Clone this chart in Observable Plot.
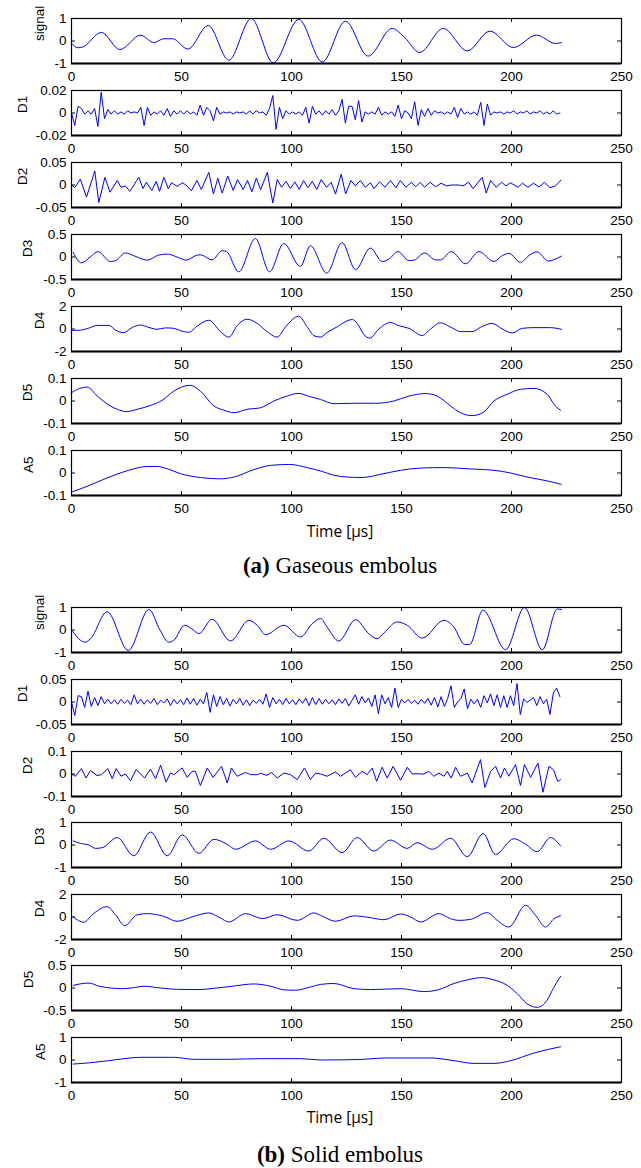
<!DOCTYPE html>
<html><head><meta charset="utf-8">
<script src="https://cdn.jsdelivr.net/npm/d3@7"></script>
<script src="https://cdn.jsdelivr.net/npm/@observablehq/plot@0.6"></script>
<style>
body{margin:0;background:#fff;}
#wrap{position:relative;width:641px;height:1168px;overflow:hidden;background:#fff;}
.panel{position:absolute;left:0;}
svg{overflow:visible;}
</style></head><body><div id="wrap"></div><script>
// ---------- data ----------
const xTicks = [0, 50, 100, 150, 200, 250];
const xInnerTicks = [50, 100, 150, 200];
const xLabel = "Time [µs]";
const captionA = ["(a)", " Gaseous embolus"];
const captionB = ["(b)", " Solid embolus"];
const rowLabels = ["signal", "D1", "D2", "D3", "D4", "D5", "A5"];

// y domains / ticks (low, high)
const gasRanges = [1, 0.02, 0.05, 0.5, 2, 0.1, 0.1];
const solRanges = [1, 0.05, 0.1, 1, 2, 0.5, 1];

// (a) gaseous embolus, [time µs, value]
const gasSignal = [[0,-0.1],[2.9,-0.3],[5,-0.27],[13.6,0.38],[22,-0.38],[31.4,0.26],[37.4,-0.07],[42,0.1],[46,0.1],[52.9,-0.36],[62.1,0.69],[71.5,-0.85],[81.7,1.0],[91.7,-0.97],[103.3,0.96],[114,-0.93],[124.5,0.88],[134.8,-0.67],[145.8,0.56],[151.5,0.15],[158.2,-0.51],[169,0.56],[179.9,-0.44],[190.2,0.44],[200.8,-0.29],[211.4,0.26],[220,-0.11],[222.7,-0.07]];
// D1 sampled every 1.5 µs from 0 to 222 µs
const gasD1 = [0,-0.011,0.006,0.004,-0.001,0.002,-0.001,0.004,-0.012,0.0185,
 -0.005,0.003,-0.001,0.002,-0.001,0.001,-0.001,0.002,0,0.001,
 0,0.005,-0.011,0.005,-0.002,0.001,-0.001,0.002,-0.002,0.004,
 -0.003,0.002,-0.001,0.002,-0.001,0.002,-0.001,0.001,-0.002,0.007,
 -0.002,0.005,0.002,-0.007,0.005,-0.001,0.001,0,0.001,-0.001,
 0.001,0,0.001,-0.001,0.002,-0.001,0.002,0,0.001,-0.002,
 0.004,0.0155,-0.0145,0.005,-0.005,0.002,-0.001,0.001,-0.001,0.001,
 -0.002,0.005,-0.009,0.006,-0.001,0.002,-0.002,0.002,-0.001,0.003,
 -0.002,0.002,0.012,-0.009,0.006,0.006,-0.006,0.011,-0.008,0.001,
 -0.001,0.001,-0.001,0.005,-0.002,0.001,-0.001,0.001,-0.003,0.007,
 -0.005,0.002,0,-0.005,0.01,-0.011,0.003,-0.003,0.004,-0.002,
 0.002,0,0.001,-0.001,0.001,-0.001,0.005,-0.004,0.004,-0.001,
 0.001,-0.001,0.001,-0.002,0.0095,-0.011,0.008,-0.002,0.001,0,
 0.001,-0.001,0.001,0,0.002,-0.001,0.001,0,0.002,-0.001,
 0.001,0,0.002,-0.001,0.001,-0.001,0.002,-0.001,0];
const gasD2 = [[0,0],[1.5,-0.006],[4,0.013],[6.8,-0.027],[10.6,0.031],[12.4,-0.039],[15.2,0.017],[17.5,-0.016],[20.8,0.01],[22.5,-0.005],[24.5,-0.002],[26.5,-0.014],[30.6,0.017],[32.5,-0.008],[34,0.006],[36.5,-0.012],[38.5,0.008],[40,-0.014],[42,0.017],[44,-0.008],[45.5,0.005],[48,-0.003],[50.5,0.005],[52.5,-0.002],[54.5,-0.013],[57,0.01],[59,-0.01],[62.4,0.028],[64.5,-0.02],[66.5,0.015],[68.5,-0.018],[71,0.02],[73.5,-0.012],[75.5,0.012],[78,-0.01],[80,0.01],[82,-0.015],[84,0.015],[86,-0.01],[89,0.028],[91.5,-0.04],[93.5,0.012],[95.5,-0.005],[97.5,0.008],[99.5,-0.008],[101.5,0.007],[103.5,-0.01],[105.5,0.01],[107.5,-0.006],[109.5,0.008],[111.5,-0.01],[113.5,0.012],[116,-0.005],[118,0.006],[120,-0.02],[122.6,0.024],[124.6,-0.02],[127,0.01],[129,-0.002],[131.3,0.01],[133.5,-0.005],[135.9,0.005],[137.5,-0.008],[140,0.007],[142.5,-0.005],[145,0.01],[147.5,-0.006],[149.5,0.01],[152,-0.005],[154.5,0.006],[156.5,-0.004],[158.5,0.006],[160.5,-0.005],[163,0.006],[165.5,-0.004],[168,0.004],[170.5,-0.002],[172.5,0],[176,0],[178,-0.002],[180.5,0.006],[182.5,-0.008],[186.7,0.017],[188.5,-0.018],[190.5,0.01],[193,-0.005],[195.5,0.006],[197.5,-0.002],[199.5,0.005],[203,-0.005],[205,0.004],[207.5,-0.005],[210,0.004],[212.5,-0.004],[215,0.006],[217.5,-0.006],[220,-0.002],[222.5,0.011]];
const gasD3 = [[0.8,0.1],[4.5,-0.13],[8.5,0.0],[12,0.12],[17.7,-0.1],[20,-0.08],[24.5,0.09],[28.3,0.03],[34.4,-0.07],[39.5,0.04],[43.5,0.065],[48,0.0],[52.1,-0.07],[57,0.04],[58.6,0.05],[63.9,-0.065],[68.5,0.14],[70.5,0.12],[76,-0.33],[83.6,0.41],[90,-0.33],[96.5,0.3],[104,-0.21],[108.6,0.25],[116,-0.36],[123,0.32],[129.1,-0.28],[135.9,0.2],[141.2,-0.1],[144.2,-0.05],[148.4,0.12],[153.4,-0.08],[155.7,-0.07],[160.5,0.09],[165.5,-0.065],[167.7,-0.065],[172.6,0.12],[179.1,-0.15],[185.2,0.12],[192,-0.1],[195.8,0.03],[198.8,0.08],[204.1,-0.12],[207.9,0.03],[211.7,0.115],[216.7,-0.09],[219.3,-0.06],[222.7,0.02]];
const gasD4 = [[0,-0.12],[3,-0.12],[7.1,0.03],[11.7,0.32],[17,0.32],[20,-0.1],[23.8,-0.32],[27.6,0.14],[31.4,0.35],[35.2,0.14],[38.9,-0.03],[42.7,0.1],[46.5,0.06],[50.3,-0.2],[53.3,-0.29],[57.1,0.26],[62.4,0.78],[67.7,-0.23],[71.5,-0.72],[75.5,0.35],[79.8,0.87],[84.4,0.5],[88.9,-0.23],[93.5,-0.72],[97.3,0.2],[103.3,1.13],[107.1,0.2],[110.2,-0.6],[113.2,-0.72],[116.2,-0.3],[120.8,0.2],[123.8,0.58],[127.6,0.84],[129.9,0.5],[132.9,-0.5],[135.6,-0.81],[139.7,0],[145,0.58],[148.8,0.29],[153.4,0.06],[159.4,-0.58],[163.2,0],[167.7,0.55],[173,0.1],[176.8,-0.23],[182.1,-0.23],[185.9,0.15],[191.2,0.5],[195.8,0],[200.3,-0.35],[204.9,0.06],[210.2,0.12],[217.7,0.12],[222.7,-0.03]];
const gasD5 = [[0,0.037],[3.8,0.056],[7.1,0.062],[11.7,0.022],[17,-0.018],[20.8,-0.037],[25,-0.047],[29.8,-0.037],[35.2,-0.022],[41.2,0.003],[46.5,0.044],[53.8,0.07],[58.6,0.044],[64.7,-0.022],[69.3,-0.041],[73.8,-0.052],[79.8,-0.037],[85.9,-0.03],[92,0],[98,0.022],[103,0.034],[108.6,0.019],[113.2,0.007],[119.3,-0.012],[128.4,-0.01],[138.2,-0.01],[146.5,0],[153.4,0.022],[160.9,0.033],[166.2,0.022],[172.3,-0.022],[176.8,-0.052],[182.1,-0.065],[187.4,-0.049],[192,0],[198,0.03],[204.1,0.052],[210.2,0.056],[216.2,0.03],[219.9,-0.022],[222.3,-0.041]];
const gasA5 = [[0,-0.085],[7.1,-0.059],[16.2,-0.022],[26,0.012],[34.4,0.029],[38.9,0.029],[43.5,0.019],[49.5,-0.003],[58.6,-0.02],[67.7,-0.026],[73.8,-0.018],[82.9,0.015],[90.5,0.034],[99.2,0.038],[107.1,0.024],[113.2,0.009],[119.3,-0.01],[125.4,-0.018],[132.1,-0.02],[140.4,-0.006],[149.6,0.012],[158.7,0.022],[169.3,0.024],[181.4,0.018],[192,0.012],[199.6,0],[207.1,-0.018],[216.2,-0.035],[222.6,-0.05]];

// (b) solid embolus
const solSignal = [[0.5,-0.06],[6.1,-0.54],[8.6,-0.39],[16.2,0.81],[25.8,-0.91],[35.2,0.91],[40.2,0],[44.2,-0.54],[46.5,-0.46],[51.4,0.21],[55.4,0],[57.9,-0.16],[63.9,0.48],[72.3,-0.49],[80.6,0.43],[84.4,0.21],[88.2,-0.21],[96.5,0.21],[104.1,-0.31],[109.4,0.28],[113.2,0.51],[116.2,0.13],[121.5,-0.49],[129.1,0.46],[135.1,-0.16],[138.9,-0.39],[142,-0.13],[148.1,0.36],[152.6,0.21],[159.4,-0.36],[169.3,0.43],[173.8,0.13],[178.7,-0.64],[181,-0.64],[187,0.88],[197.3,-0.87],[205.9,1.0],[214,-0.88],[220.8,0.93],[222.7,0.91]];
// D1 sampled every 1.5 µs from 0 to 222 µs
const solD1 = [0,-0.03,0.014,0.012,-0.012,0.024,-0.01,0.01,-0.008,0.012,
 -0.004,0.006,-0.004,0.005,-0.005,0.006,-0.003,0.004,-0.006,0.016,
 -0.004,0.006,-0.005,0.005,-0.003,0.008,-0.006,0.004,-0.002,0.007,
 -0.008,0.006,-0.004,0.005,-0.006,0.009,-0.005,0.008,-0.007,0.006,
 -0.004,0.021,-0.023,0.016,-0.01,0.012,-0.006,0.008,-0.009,0.006,
 -0.004,0.008,-0.007,0.005,-0.008,0.004,-0.003,0.006,-0.005,0.018,
 -0.012,0.01,-0.004,0.006,-0.006,0.008,-0.004,0.005,-0.006,0.007,
 -0.003,0.009,-0.008,0.01,-0.006,0.008,-0.005,0.006,-0.004,0.005,
 -0.006,0.007,-0.003,0.008,-0.009,0.004,0.016,-0.005,0.012,-0.002,
 0.009,-0.01,0.016,-0.026,0.016,-0.004,0.01,-0.012,0.031,-0.012,
 0.006,-0.002,0.006,-0.003,0.004,-0.005,0.006,-0.003,0.008,-0.007,
 0.01,-0.011,0.012,-0.01,0.008,0.036,-0.012,0,0.008,0.029,
 -0.015,0.006,-0.004,0.006,-0.012,0.014,-0.002,0.018,-0.008,0.016,
 -0.012,0.014,-0.012,0.014,-0.008,0.041,-0.028,0.007,-0.001,0.004,
 0.01,-0.008,0.012,-0.004,0.006,-0.028,0.02,0.031,0.012];
const solD2 = [[0,0],[1.8,-0.01],[4.5,0.024],[6.6,-0.018],[8.6,0.015],[11.6,-0.007],[13.6,-0.003],[16.5,0.024],[18.5,-0.021],[20.3,0.024],[22.5,-0.01],[24.5,0],[26.8,-0.03],[29.4,0.02],[31.4,0],[33.2,-0.018],[35.9,0.022],[38.2,-0.021],[40.5,0.039],[43,-0.036],[45,0.005],[46.5,-0.003],[50.3,0.027],[52.6,-0.015],[54.8,0.012],[56.3,0.012],[58.6,-0.051],[61.7,0.027],[64.4,-0.015],[68.2,0.034],[70.8,-0.04],[72.7,0.027],[75.3,-0.01],[79.1,0.007],[81.4,-0.003],[84.4,-0.003],[85.9,0.003],[88.9,-0.006],[90.9,0.007],[93.5,-0.018],[96.5,0.004],[99.5,-0.003],[102.6,-0.025],[105.9,0.027],[108.6,-0.025],[110.9,0.004],[113.2,0],[116.2,-0.01],[120,0.009],[122.3,-0.01],[126.8,0.019],[129.1,-0.015],[132.1,0.012],[134.4,-0.003],[136.7,0.027],[138.7,-0.033],[141.2,0.03],[143.5,-0.018],[146.2,0.034],[149.6,-0.028],[152.6,0.03],[154.9,0],[157.1,0.001],[160.2,0],[162.4,0.012],[164.7,-0.01],[167,0.004],[169.3,-0.01],[170.8,0.012],[172.6,-0.018],[174.6,0.03],[176.8,-0.01],[179.9,0.004],[182.1,-0.04],[185.9,0.064],[187.9,-0.06],[190.5,0.012],[192.8,0.034],[195,-0.018],[196.8,0.027],[198.8,-0.01],[201.8,0.042],[204.1,-0.051],[205.9,0.042],[208.7,-0.015],[212,0.049],[214.3,-0.081],[217,0.034],[219.1,0.019],[221,-0.033],[222.3,-0.025]];
const solD3 = [[0.8,0.18],[4.1,0.07],[7.9,0],[10.9,-0.15],[13.9,-0.12],[20.8,0.33],[28.3,-0.48],[35.9,0.58],[43.5,-0.48],[50.3,0.45],[57.9,-0.37],[64.7,0.25],[70.8,0.03],[74.5,-0.19],[83.6,0.18],[90.5,-0.19],[98.8,0.18],[107.9,-0.27],[114.7,0.3],[123,-0.34],[129.9,0.33],[137.4,-0.27],[145,0.22],[152.6,-0.15],[157.1,0.1],[164,-0.19],[172.3,0.3],[179.9,-0.52],[187.1,0.51],[192.7,-0.42],[201.1,0.28],[206.4,0.03],[211.7,-0.3],[217.7,0.33],[222.3,-0.04]];
const solD4 = [[0.8,0],[5.6,-0.47],[9.4,0.2],[16.2,0.92],[20,0.2],[24.2,-0.77],[29.8,0.2],[34.4,0.3],[41.9,0.06],[48,-0.38],[55.6,0.06],[62.4,0.36],[67.7,-0.09],[71.5,-0.44],[79.1,0.3],[84.4,-0.03],[86.7,-0.15],[93.5,0.2],[102.6,-0.3],[110.2,0.36],[113.2,0.15],[120,-0.38],[128.4,0.1],[135.9,-0.06],[142,-0.24],[149.6,0.27],[154.1,0],[158.7,-0.44],[167,0.3],[172.3,-0.15],[176.1,-0.3],[181.4,-0.21],[189,0.39],[193.5,-0.3],[198.8,-0.89],[206.4,1.04],[210.9,0.15],[215.5,-0.89],[219.3,-0.15],[222.3,0.12]];
const solD5 = [[0.8,0.06],[7.9,0.11],[12.6,0.04],[17.7,0],[23,-0.015],[28.3,0.007],[32.9,0.04],[40.5,0],[47.8,-0.03],[57.1,-0.035],[66.2,0],[73.8,0.044],[82.9,0.09],[90.5,0.04],[96.5,-0.04],[101.8,-0.05],[108.6,0.022],[113.2,0.08],[119.3,0.1],[128.4,-0.015],[135.9,-0.035],[149.6,-0.015],[160.2,-0.08],[167,-0.035],[173.8,0.1],[179.9,0.18],[186.7,0.23],[192,0.18],[198,0.06],[202.6,-0.125],[207.1,-0.35],[211.7,-0.43],[216.2,-0.27],[219.3,0.02],[222.3,0.26]];
const solA5 = [[0.8,-0.18],[8.6,-0.12],[16.2,-0.04],[23.8,0.06],[31.4,0.12],[46.5,0.12],[55.6,0.03],[70.8,0.03],[85.9,0.06],[104.1,0.06],[113.2,0],[129.9,0.02],[143.5,0.09],[163.2,0.09],[173.8,-0.03],[182.9,-0.15],[192,-0.15],[199.6,-0.03],[210.2,0.31],[222.3,0.59]];

// ---------- layout (styling only) ----------
const W = 641, ML = 71, MR = 20, MT = 6, PH = 45, MB = 24;
const gasTops = [18, 90, 162, 234, 306, 378, 450];
const solTops = [607, 679, 751, 822, 894, 965, 1037];
const gasLabelDx = [-32, -49, -49, -44, -32, -44, -43];
const solLabelDx = [-32, -49, -44, -32, -32, -43, -31];
const BLUE = "#0000ff";
const FONT = "'Liberation Sans', Arial, sans-serif";

const sampled = vals => vals.map((v, i) => [i * 222 / (vals.length - 1), v]);
const gasSeries = [gasSignal, sampled(gasD1), gasD2, gasD3, gasD4, gasD5, gasA5];
const solSeries = [solSignal, sampled(solD1), solD2, solD3, solD4, solD5, solA5];
const smooth = [true, false, false, true, true, true, true];

const wrap = document.getElementById("wrap");

function drawPanel(data, range, label, dx, top, isSmooth) {
  const ticks = [-range, 0, range];
  const chart = Plot.plot({
    width: W, height: MT + PH + MB,
    marginTop: MT, marginBottom: MB, marginLeft: ML, marginRight: MR,
    x: {domain: [0, 250]},
    y: {domain: [-range, range]},
    style: {fontFamily: FONT, fontSize: "13.5px", color: "black", background: "transparent", overflow: "visible"},
    marks: [
      Plot.line(data, {x: d => d[0], y: d => d[1], stroke: BLUE, strokeWidth: 1, curve: isSmooth ? "monotone-x" : "linear"}),
      Plot.tickX(xInnerTicks, {x: d => d, insetTop: PH - 4, stroke: "black"}),
      Plot.tickX(xInnerTicks, {x: d => d, insetBottom: PH - 4, stroke: "black"}),
      Plot.tickY(ticks, {y: d => d, insetRight: W - ML - MR - 4, stroke: "black"}),
      Plot.tickY(ticks, {y: d => d, insetLeft: W - ML - MR - 4, stroke: "black"}),
      Plot.frame({stroke: "black", strokeWidth: 1.2}),
      Plot.ruleY([-range], {stroke: "black", strokeWidth: 1.8}),
      Plot.axisX({ticks: xTicks, tickSize: 0, tickPadding: 8, tickFormat: d => String(d), label: null}),
      Plot.axisY({ticks: ticks, tickSize: 0, tickPadding: 5, tickFormat: d => String(d), label: null}),
      Plot.text([label], {frameAnchor: "left", dx: dx, rotate: -90, text: d => d, fill: "black"})
    ]
  });
  const div = document.createElement("div");
  div.className = "panel";
  div.style.top = (top - MT) + "px";
  div.appendChild(chart);
  wrap.appendChild(div);
}

rowLabels.forEach((lab, i) => drawPanel(gasSeries[i], gasRanges[i], lab, gasLabelDx[i], gasTops[i], smooth[i]));
rowLabels.forEach((lab, i) => drawPanel(solSeries[i], solRanges[i], lab, solLabelDx[i], solTops[i], smooth[i]));

// text overlay: x-axis titles and captions
const ov = d3.select(wrap).append("svg")
  .attr("width", W).attr("height", 1168)
  .style("position", "absolute").style("left", 0).style("top", 0).style("pointer-events", "none");
[[537, captionA, 573], [1123, captionB, 1162]].forEach(([ty, cap, cy]) => {
  ov.append("text").attr("x", 340).attr("y", ty).attr("text-anchor", "middle")
    .style("font-family", "'Open Sans', sans-serif").style("font-size", "15.5px").attr("fill", "black").text(xLabel);
  const t = ov.append("text").attr("x", 340).attr("y", cy).attr("text-anchor", "middle")
    .style("font-family", "'Liberation Serif', 'Times New Roman', serif").style("font-size", "23px").attr("fill", "black");
  t.append("tspan").style("font-weight", "bold").text(cap[0]);
  t.append("tspan").text(cap[1]);
});
</script></body></html>
